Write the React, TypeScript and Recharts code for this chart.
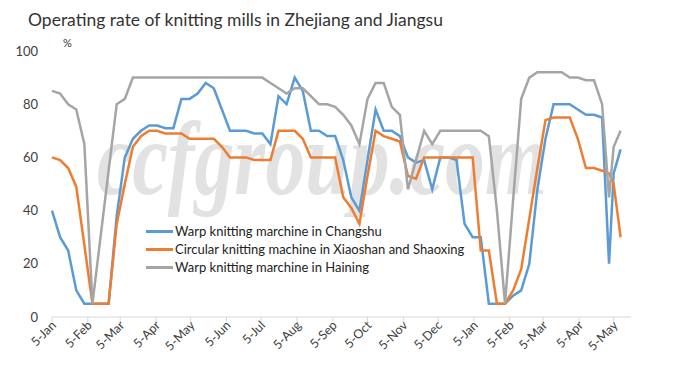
import { LineChart, Line, XAxis, YAxis } from "recharts";

// weekly survey dates (last few are irregular)
const dates = [
  "2015-01-05", "2015-01-12", "2015-01-19", "2015-01-26",
  "2015-02-02", "2015-02-09", "2015-02-16", "2015-02-23",
  "2015-03-02", "2015-03-09", "2015-03-16", "2015-03-23", "2015-03-30",
  "2015-04-06", "2015-04-13", "2015-04-20", "2015-04-27",
  "2015-05-04", "2015-05-11", "2015-05-18", "2015-05-25",
  "2015-06-01", "2015-06-08", "2015-06-15", "2015-06-22", "2015-06-29",
  "2015-07-06", "2015-07-13", "2015-07-20", "2015-07-27",
  "2015-08-03", "2015-08-10", "2015-08-17", "2015-08-24", "2015-08-31",
  "2015-09-07", "2015-09-14", "2015-09-21", "2015-09-28",
  "2015-10-05", "2015-10-12", "2015-10-19", "2015-10-26",
  "2015-11-02", "2015-11-09", "2015-11-16", "2015-11-23", "2015-11-30",
  "2015-12-07", "2015-12-14", "2015-12-21", "2015-12-28",
  "2016-01-04", "2016-01-11", "2016-01-18", "2016-01-25",
  "2016-02-01", "2016-02-08", "2016-02-15", "2016-02-22", "2016-02-29",
  "2016-03-07", "2016-03-14", "2016-03-21", "2016-03-28",
  "2016-04-04", "2016-04-11", "2016-04-18", "2016-04-25",
  "2016-05-01", "2016-05-05", "2016-05-11",
];

const changshu = [
  40, 30, 25, 10, 5, 5, 5, 5, 38, 60, 67, 70, 72,
  72, 71, 71, 82, 82, 84, 88, 86, 78, 70, 70, 70, 69,
  69, 65, 83, 80, 90, 85, 70, 70, 68, 68, 59, 45, 40,
  59, 78, 70, 70, 68, 60, 58, 59, 48, 60, 60, 59, 35,
  30, 30, 5, 5, 5, 8, 10, 20, 48, 67, 80, 80, 80,
  78, 76, 76, 75, 20, 54, 63,
];

const xiaoshan = [
  60, 59, 56, 49, 27, 5, 5, 5, 35, 50, 64, 68, 70,
  70, 69, 69, 69, 67, 67, 67, 67, 64, 60, 60, 60, 59,
  59, 59, 70, 70, 70, 67, 60, 60, 60, 60, 45, 41, 35,
  53, 70, 68, 67, 66, 53, 52, 60, 60, 60, 60, 60, 60,
  60, 25, 25, 5, 5, 10, 18, 37, 56, 74, 75, 75, 75,
  67, 56, 56, 55, 54, 50, 30,
];

const haining = [
  85, 84, 80, 78, 65, 5, 30, 55, 80, 82, 90, 90, 90,
  90, 90, 90, 90, 90, 90, 90, 90, 90, 90, 90, 90, 90,
  90, 88, 86, 84, 86, 86, 83, 80, 80, 79, 76, 72, 65,
  82, 88, 88, 79, 76, 48, 59, 70, 65, 70, 70, 70, 70,
  70, 70, 68, 40, 5, 44, 82, 90, 92, 92, 92, 92, 90,
  90, 89, 89, 80, 45, 64, 70,
];

const tickDates = [
  "2015-01-05", "2015-02-05", "2015-03-05", "2015-04-05", "2015-05-05",
  "2015-06-05", "2015-07-05", "2015-08-05", "2015-09-05", "2015-10-05",
  "2015-11-05", "2015-12-05", "2016-01-05", "2016-02-05", "2016-03-05",
  "2016-04-05", "2016-05-05",
];
const yTicks = [0, 20, 40, 60, 80, 100];
const MONTHS = ["Jan", "Feb", "Mar", "Apr", "May", "Jun", "Jul", "Aug", "Sep", "Oct", "Nov", "Dec"];

const toTime = (s: string) => {
  const [y, m, d] = s.split("-").map(Number);
  return Date.UTC(y, m - 1, d);
};

const SERIES = [
  { key: "changshu", label: "Warp knitting marchine in Changshu", color: "#5B9BD5" },
  { key: "xiaoshan", label: "Circular knitting machine in Xiaoshan and Shaoxing", color: "#ED7D31" },
  { key: "haining", label: "Warp knitting marchine in Haining", color: "#A5A5A5" },
];

const data = dates.map((d, i) => ({
  t: toTime(d),
  changshu: changshu[i],
  xiaoshan: xiaoshan[i],
  haining: haining[i],
}));

const FONT = "Lato, 'Open Sans', sans-serif";
const TEXT = "#404040";

const XTick = (props: any) => {
  const { x, y, payload } = props;
  const d = new Date(payload.value);
  return (
    <g transform={`translate(${x},${y})`}>
      <text x={2} y={0} dy={5} textAnchor="end" transform="rotate(-45)" fontSize={12.5} fill={TEXT} fontFamily={FONT}>
        {`${d.getUTCDate()}-${MONTHS[d.getUTCMonth()]}`}
      </text>
    </g>
  );
};

export default function App() {
  return (
    <div style={{ position: "absolute", left: 0, top: 0, width: 683, height: 377, background: "#fff", fontFamily: FONT }}>
      {/* watermark */}
      <svg width={683} height={377} style={{ position: "absolute", left: 0, top: 0 }}>
        <text
          x={97}
          y={194}
          fontSize={106}
          fontStyle="italic"
          fontWeight="bold"
          fontFamily="'Liberation Serif', 'DejaVu Serif', serif"
          fill="#e2e2e2"
          textLength={450}
          lengthAdjust="spacingAndGlyphs"
        >
          ccfgroup.com
        </text>
      </svg>

      <div style={{ position: "absolute", left: 28, top: 9, fontSize: 17.5, color: "#333", whiteSpace: "nowrap" }}>
        Operating rate of knitting mills in Zhejiang and Jiangsu
      </div>
      <div style={{ position: "absolute", left: 63, top: 36, fontSize: 11, color: "#333" }}>%</div>

      <div style={{ position: "absolute", left: 0, top: 0 }}>
        <LineChart width={683} height={377} data={data} margin={{ top: 51, right: 52, bottom: 10, left: 12 }}>
          <XAxis
            dataKey="t"
            type="number"
            scale="linear"
            domain={[toTime("2015-01-05"), toTime("2016-05-20")]}
            ticks={tickDates.map(toTime)}
            tick={<XTick />}
            height={50}
            tickSize={5}
            tickMargin={2}
            axisLine={{ stroke: "#D9D9D9" }}
            tickLine={{ stroke: "#D9D9D9" }}
            interval={0}
          />
          <YAxis
            domain={[0, 100]}
            ticks={yTicks}
            width={40}
            axisLine={false}
            tickLine={false}
            tickSize={0}
            tickMargin={14}
            tick={{ fontSize: 13, fill: TEXT, fontFamily: FONT }}
          />
          {SERIES.map((s) => (
            <Line
              key={s.key}
              type="linear"
              dataKey={s.key}
              stroke={s.color}
              strokeWidth={2.5}
              dot={false}
              isAnimationActive={false}
              name={s.label}
            />
          ))}
        </LineChart>
      </div>

      <div style={{ position: "absolute", left: 146, top: 223, fontSize: 13, color: "#222", lineHeight: "17.8px" }}>
        {SERIES.map((s) => (
          <div key={s.key} style={{ display: "flex", alignItems: "center", whiteSpace: "nowrap" }}>
            <span style={{ display: "inline-block", width: 27, height: 3, background: s.color, marginRight: 2 }} />
            {s.label}
          </div>
        ))}
      </div>
    </div>
  );
}
